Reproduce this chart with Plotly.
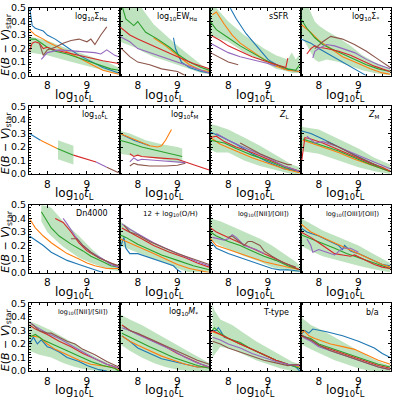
import plotly.graph_objects as go
from plotly.subplots import make_subplots

# colours of the six bins (matplotlib tab10)
C_BLUE, C_ORANGE, C_GREEN = "#1f77b4", "#ff7f0e", "#2ca02c"
C_RED, C_PURPLE, C_BROWN = "#d62728", "#9467bd", "#8c564b"
BAND = "rgba(44,160,44,0.3)"
FONT = "DejaVu Sans"

# ---- panel 1: log10 Sigma_Ha  (x, E(B-V)) ----
sha_blue = [(7.56, 0.5), (7.62, 0.37), (7.7, 0.35), (7.9, 0.33), (8.0, 0.30), (8.2, 0.27), (8.4, 0.23), (8.6, 0.19), (8.8, 0.15), (9.0, 0.12), (9.2, 0.09), (9.4, 0.06), (9.6, 0.04), (9.8, 0.02)]
sha_orange = [(7.55, 0.34), (7.7, 0.30), (7.9, 0.27), (8.0, 0.25), (8.2, 0.22), (8.4, 0.19), (8.6, 0.16), (8.8, 0.13), (9.0, 0.10), (9.2, 0.07), (9.4, 0.04), (9.6, 0.025), (9.8, 0.01)]
sha_green = [(7.55, 0.27), (7.7, 0.27), (7.8, 0.25), (8.0, 0.21), (8.2, 0.18), (8.5, 0.16), (8.8, 0.13), (9.0, 0.11), (9.2, 0.09), (9.4, 0.07), (9.6, 0.05), (9.8, 0.04)]
sha_red = [(7.55, 0.18), (7.62, 0.24), (7.7, 0.25), (7.8, 0.24), (7.9, 0.20), (8.0, 0.21), (8.2, 0.19), (8.5, 0.17), (8.8, 0.15), (9.1, 0.13), (9.4, 0.11), (9.8, 0.09)]
sha_purple = [(7.85, 0.12), (8.0, 0.17), (8.3, 0.19), (8.8, 0.18), (9.2, 0.17), (9.35, 0.16), (9.5, 0.19), (9.6, 0.17), (9.7, 0.15), (9.8, 0.14)]
sha_brown = [(7.8, 0.24), (7.9, 0.15), (8.0, 0.19), (8.2, 0.21), (8.4, 0.24), (8.6, 0.26), (8.8, 0.27), (9.0, 0.25), (9.1, 0.27), (9.2, 0.23), (9.35, 0.30), (9.5, 0.36)]
sha_band = [(7.55, 0.17, 0.29), (8.0, 0.15, 0.26), (8.5, 0.11, 0.20), (9.0, 0.07, 0.15), (9.5, 0.03, 0.10), (9.8, 0.01, 0.06)]

# ---- panel 2: log10 EW_Ha ----
ew_blue = [(8.9, 0.28), (8.95, 0.20), (9.1, 0.10), (9.3, 0.06), (9.6, 0.03), (9.8, 0.02)]
ew_orange = [(8.4, 0.28), (8.7, 0.22), (9.0, 0.15), (9.3, 0.08), (9.6, 0.04), (9.8, 0.03)]
ew_green = [(7.62, 0.5), (7.7, 0.42), (7.9, 0.37), (8.0, 0.40), (8.2, 0.32), (8.5, 0.27), (8.8, 0.21), (9.0, 0.16), (9.3, 0.10), (9.6, 0.06), (9.8, 0.04)]
ew_red = [(7.55, 0.36), (7.8, 0.30), (8.0, 0.27), (8.3, 0.23), (8.6, 0.19), (9.0, 0.14), (9.4, 0.09), (9.7, 0.06), (9.8, 0.05)]
ew_purple = [(7.55, 0.29), (7.8, 0.25), (8.0, 0.20), (8.3, 0.17), (8.6, 0.14), (9.0, 0.10), (9.4, 0.06), (9.7, 0.03), (9.8, 0.02)]
ew_brown = [(7.55, 0.21), (7.8, 0.14), (8.0, 0.10), (8.3, 0.08), (8.6, 0.05), (9.0, 0.03), (9.2, 0.0)]
ew_band = [(7.55, 0.25, 0.5), (8.0, 0.20, 0.5), (8.1, 0.18, 0.5), (8.4, 0.14, 0.38), (8.7, 0.11, 0.30), (9.0, 0.08, 0.22), (9.3, 0.05, 0.15), (9.6, 0.02, 0.08), (9.8, 0.01, 0.05)]

# ---- panel 3: sSFR ----
ssfr_blue = [(8.05, 0.5), (8.2, 0.42), (8.45, 0.31), (8.8, 0.19), (9.0, 0.12), (9.1, 0.10), (9.4, 0.05), (9.8, 0.03)]
ssfr_orange = [(7.6, 0.45), (7.7, 0.47), (7.9, 0.38), (8.1, 0.30), (8.3, 0.24), (8.6, 0.18), (8.9, 0.12), (9.2, 0.07), (9.5, 0.04), (9.8, 0.03)]
ssfr_green = [(7.55, 0.40), (7.7, 0.34), (8.0, 0.28), (8.3, 0.22), (8.6, 0.17), (8.9, 0.12), (9.2, 0.08), (9.5, 0.05), (9.7, 0.04), (9.8, 0.08)]
ssfr_red = [(7.55, 0.30), (7.8, 0.26), (8.0, 0.22), (8.3, 0.18), (8.6, 0.14), (9.0, 0.10), (9.3, 0.07), (9.45, 0.06), (9.5, 0.13)]
ssfr_purple = [(7.55, 0.24), (7.8, 0.20), (8.0, 0.17), (8.3, 0.14), (8.6, 0.12), (9.0, 0.09), (9.2, 0.07)]
ssfr_brown = [(7.55, 0.17), (7.8, 0.13), (8.0, 0.10), (8.25, 0.08)]
ssfr_band = [(7.55, 0.30, 0.5), (7.7, 0.28, 0.5), (8.0, 0.25, 0.40), (8.4, 0.17, 0.30), (8.9, 0.10, 0.20), (9.2, 0.05, 0.15), (9.5, 0.03, 0.12), (9.6, 0.02, 0.17), (9.7, 0.02, 0.12), (9.8, 0.02, 0.16)]

# ---- panel 4: log10 Sigma_* ----
sst_blue = [(7.55, 0.27), (7.8, 0.24), (8.0, 0.20), (8.3, 0.15), (8.6, 0.10), (8.9, 0.05), (9.2, 0.0)]
sst_orange = [(7.55, 0.38), (7.8, 0.32), (8.0, 0.26), (8.3, 0.20), (8.6, 0.14), (9.0, 0.09), (9.3, 0.05), (9.6, 0.02), (9.8, 0.01)]
sst_green = [(7.55, 0.42), (7.7, 0.35), (7.9, 0.28), (8.1, 0.23), (8.3, 0.20), (8.6, 0.16), (8.9, 0.12), (9.2, 0.08), (9.5, 0.05), (9.8, 0.03)]
sst_red = [(7.7, 0.16), (7.8, 0.20), (7.9, 0.22), (8.0, 0.21), (8.2, 0.20), (8.5, 0.18), (8.8, 0.15), (9.1, 0.11), (9.4, 0.07), (9.7, 0.04), (9.8, 0.03)]
sst_purple = [(7.85, 0.13), (7.9, 0.18), (8.0, 0.20), (8.2, 0.23), (8.4, 0.22), (8.6, 0.20), (8.9, 0.17), (9.2, 0.12), (9.5, 0.08), (9.8, 0.05)]
sst_brown = [(7.9, 0.20), (8.1, 0.25), (8.3, 0.29), (8.6, 0.27), (8.9, 0.23), (9.2, 0.18), (9.5, 0.12), (9.8, 0.06)]
sst_band = [(7.55, 0.30, 0.5), (7.75, 0.20, 0.5), (7.9, 0.12, 0.40), (8.0, 0.10, 0.37), (8.2, 0.12, 0.33), (8.5, 0.10, 0.28), (8.8, 0.07, 0.22), (9.1, 0.04, 0.15), (9.4, 0.02, 0.10), (9.8, 0.0, 0.05)]

# ---- panel 5: log10 t_L ----
tl_blue = [(7.55, 0.30), (7.83, 0.25)]
tl_orange = [(7.83, 0.25), (8.25, 0.19)]
tl_green = [(8.25, 0.19), (8.66, 0.14)]
tl_red = [(8.66, 0.14), (9.23, 0.09)]
tl_purple = [(9.23, 0.09), (9.5, 0.05)]
tl_brown = [(9.5, 0.05), (9.8, 0.01)]
tl_band = [(8.27, 0.11, 0.25), (8.66, 0.07, 0.21)]

# ---- panel 6: log10 t_M ----
tm_blue = [(7.55, 0.30), (7.7, 0.28), (7.9, 0.25), (8.1, 0.23), (8.3, 0.21)]
tm_orange = [(7.55, 0.30), (7.8, 0.27), (8.1, 0.23), (8.3, 0.21), (8.5, 0.20), (8.6, 0.21), (8.7, 0.25), (8.85, 0.33)]
tm_green = [(7.55, 0.25), (7.8, 0.23), (8.1, 0.20), (8.4, 0.18), (8.7, 0.16), (9.0, 0.14), (9.12, 0.13)]
tm_red = [(7.8, 0.15), (7.9, 0.13), (8.0, 0.14), (8.1, 0.13), (8.5, 0.12), (9.0, 0.11), (9.2, 0.09), (9.4, 0.07), (9.6, 0.05), (9.8, 0.03)]
tm_purple = [(7.8, 0.09), (7.9, 0.12), (8.0, 0.10), (8.1, 0.11), (8.5, 0.10), (9.0, 0.09), (9.2, 0.085)]
tm_brown = [(7.8, 0.06), (7.9, 0.08), (8.0, 0.07), (8.3, 0.06), (8.7, 0.06), (9.0, 0.065), (9.2, 0.08)]
tm_band = [(7.55, 0.15, 0.32), (7.8, 0.14, 0.30), (8.2, 0.13, 0.25), (8.6, 0.11, 0.22), (9.0, 0.09, 0.20), (9.12, 0.08, 0.19)]

# ---- panel 7: Z_L ----
zl_blue = [(7.55, 0.31), (7.8, 0.28), (8.2, 0.22), (8.6, 0.15), (9.0, 0.09), (9.4, 0.04), (9.8, 0.02)]
zl_orange = [(7.55, 0.27), (7.8, 0.22), (8.2, 0.17), (8.6, 0.12), (9.0, 0.08), (9.4, 0.04), (9.8, 0.01)]
zl_green = [(7.55, 0.25), (7.9, 0.23), (8.2, 0.19), (8.6, 0.14), (9.0, 0.10), (9.4, 0.05), (9.8, 0.02)]
zl_red = [(7.55, 0.27), (7.7, 0.28), (7.9, 0.24), (8.2, 0.20), (8.6, 0.16), (9.0, 0.11), (9.4, 0.06), (9.8, 0.02)]
zl_purple = [(7.7, 0.30), (8.0, 0.25), (8.3, 0.21), (8.6, 0.17), (9.0, 0.12), (9.4, 0.06), (9.8, 0.02)]
zl_brown = [(8.3, 0.23), (8.5, 0.20), (8.8, 0.15), (9.2, 0.10), (9.5, 0.07), (9.6, 0.07)]
zl_band = [(7.55, 0.18, 0.37), (7.7, 0.16, 0.36), (8.0, 0.16, 0.33), (8.4, 0.10, 0.27), (8.8, 0.06, 0.21), (9.2, 0.03, 0.14), (9.6, 0.0, 0.07), (9.8, 0.0, 0.05)]

# ---- panel 8: Z_M ----
zm_blue = [(7.55, 0.32), (7.8, 0.30), (8.1, 0.26), (8.5, 0.20), (8.9, 0.14), (9.3, 0.08), (9.6, 0.04), (9.8, 0.02)]
zm_orange = [(7.6, 0.25), (8.0, 0.21), (8.5, 0.16), (8.9, 0.11), (9.3, 0.07), (9.6, 0.04), (9.8, 0.02)]
zm_green = [(7.6, 0.26), (8.0, 0.22), (8.5, 0.17), (8.9, 0.12), (9.3, 0.07), (9.6, 0.04), (9.8, 0.02)]
zm_red = [(7.57, 0.10), (7.65, 0.27), (7.8, 0.26), (8.1, 0.23), (8.5, 0.18), (8.9, 0.13), (9.3, 0.08), (9.6, 0.05), (9.8, 0.02)]
zm_purple = [(7.7, 0.28), (7.9, 0.23), (8.1, 0.24), (8.5, 0.20), (8.9, 0.15), (9.3, 0.10), (9.6, 0.06), (9.8, 0.04)]
zm_brown = [(8.2, 0.24), (8.5, 0.20), (8.9, 0.14), (9.3, 0.09), (9.5, 0.06)]
zm_band = [(7.55, 0.17, 0.35), (8.0, 0.15, 0.33), (8.5, 0.10, 0.26), (9.0, 0.05, 0.19), (9.4, 0.02, 0.12), (9.8, 0.0, 0.07)]

# ---- panel 9: Dn4000 ----
dn_blue = [(7.55, 0.27), (7.7, 0.24), (7.9, 0.20), (8.1, 0.15), (8.3, 0.12), (8.5, 0.09), (8.8, 0.06), (9.0, 0.04), (9.2, 0.02), (9.4, 0.0)]
dn_orange = [(7.55, 0.40), (7.7, 0.33), (7.9, 0.27), (8.1, 0.22), (8.3, 0.18), (8.5, 0.14), (8.8, 0.10), (9.0, 0.07), (9.2, 0.05), (9.5, 0.03), (9.8, 0.03)]
dn_green = [(7.85, 0.45), (7.95, 0.40), (8.1, 0.33), (8.3, 0.27), (8.6, 0.21), (8.9, 0.16), (9.1, 0.12), (9.4, 0.08), (9.6, 0.05), (9.8, 0.04)]
dn_red = [(8.2, 0.40), (8.4, 0.37), (8.6, 0.30), (8.8, 0.22), (9.0, 0.16), (9.3, 0.11), (9.6, 0.07), (9.8, 0.04)]
dn_purple = [(8.4, 0.40), (8.5, 0.36), (8.7, 0.27), (8.9, 0.20), (9.1, 0.15), (9.4, 0.10), (9.6, 0.06), (9.8, 0.04)]
dn_brown = [(8.6, 0.25), (8.75, 0.25), (8.9, 0.20), (9.1, 0.15), (9.3, 0.11), (9.6, 0.07), (9.8, 0.05)]
dn_band = [(7.85, 0.38, 0.50), (8.0, 0.30, 0.49), (8.1, 0.27, 0.48), (8.4, 0.19, 0.38), (8.8, 0.11, 0.27), (9.1, 0.07, 0.18), (9.4, 0.04, 0.10), (9.6, 0.02, 0.07), (9.8, 0.01, 0.06)]

# ---- panel 10: 12 + log10(O/H) ----
oh_blue = [(7.55, 0.18), (7.65, 0.26), (7.7, 0.18), (7.8, 0.14), (8.0, 0.14), (8.2, 0.12), (8.4, 0.10), (8.7, 0.07), (8.9, 0.05), (9.0, 0.02), (9.1, 0.0)]
oh_orange = [(7.55, 0.25), (7.8, 0.22), (8.1, 0.18), (8.4, 0.14), (8.7, 0.10), (9.0, 0.06), (9.3, 0.03), (9.6, 0.01), (9.8, 0.0)]
oh_green = [(7.55, 0.28), (7.7, 0.26), (8.0, 0.21), (8.3, 0.17), (8.6, 0.13), (9.0, 0.09), (9.4, 0.05), (9.8, 0.02)]
oh_red = [(7.6, 0.33), (7.8, 0.30), (8.1, 0.25), (8.4, 0.20), (8.8, 0.15), (9.2, 0.11), (9.5, 0.07), (9.8, 0.04)]
oh_purple = [(7.6, 0.36), (7.8, 0.32), (8.1, 0.27), (8.4, 0.22), (8.7, 0.18), (9.1, 0.13), (9.5, 0.08), (9.8, 0.05)]
oh_brown = [(7.65, 0.35), (7.8, 0.30), (8.0, 0.28), (8.3, 0.23), (8.6, 0.19), (9.0, 0.14), (9.4, 0.10), (9.8, 0.06)]
oh_band = [(7.55, 0.20, 0.38), (7.8, 0.17, 0.33), (8.1, 0.13, 0.27), (8.4, 0.10, 0.22), (8.7, 0.07, 0.18), (9.0, 0.03, 0.14), (9.3, 0.0, 0.10), (9.5, 0.0, 0.07), (9.8, 0.0, 0.04)]

# ---- panel 11: log10([NII]/[OII]) ----
no_blue = [(7.55, 0.23), (7.7, 0.18), (8.0, 0.14), (8.3, 0.11), (8.6, 0.08), (8.9, 0.05), (9.1, 0.03), (9.3, 0.02), (9.5, 0.02), (9.8, 0.01)]
no_orange = [(7.55, 0.25), (7.7, 0.20), (8.0, 0.17), (8.3, 0.14), (8.6, 0.11), (8.9, 0.08), (9.2, 0.06), (9.5, 0.04), (9.8, 0.02)]
no_green = [(7.55, 0.30), (7.7, 0.27), (8.0, 0.23), (8.3, 0.20), (8.6, 0.16), (8.9, 0.12), (9.2, 0.09), (9.5, 0.05), (9.8, 0.02)]
no_red = [(7.55, 0.33), (7.7, 0.30), (8.0, 0.26), (8.3, 0.22), (8.6, 0.18), (8.9, 0.14), (9.2, 0.10), (9.5, 0.06), (9.8, 0.02)]
no_purple = [(7.6, 0.26), (7.9, 0.24), (8.0, 0.25), (8.1, 0.28), (8.2, 0.26), (8.4, 0.20), (8.7, 0.17), (8.9, 0.14)]
no_brown = [(8.0, 0.26), (8.1, 0.27), (8.4, 0.20), (8.5, 0.23), (8.6, 0.23), (8.8, 0.20), (8.9, 0.16), (9.1, 0.12), (9.4, 0.07), (9.7, 0.04)]
no_band = [(7.55, 0.24, 0.40), (7.8, 0.20, 0.38), (8.1, 0.16, 0.34), (8.4, 0.12, 0.30), (8.8, 0.08, 0.25), (9.1, 0.04, 0.20), (9.4, 0.02, 0.14), (9.7, 0.0, 0.08), (9.8, 0.0, 0.05)]

# ---- panel 12: log10([OIII]/[OII]) ----
oo_blue = [(7.55, 0.33), (7.7, 0.30), (8.0, 0.27), (8.3, 0.23), (8.5, 0.20), (8.6, 0.17), (8.65, 0.20), (8.8, 0.16), (9.0, 0.14), (9.3, 0.10), (9.6, 0.06), (9.8, 0.05)]
oo_orange = [(7.55, 0.36), (7.8, 0.30), (8.1, 0.26), (8.4, 0.22), (8.7, 0.18), (9.0, 0.14), (9.3, 0.10), (9.6, 0.06), (9.8, 0.04)]
oo_green = [(7.55, 0.28), (7.8, 0.25), (8.1, 0.22), (8.4, 0.18), (8.7, 0.14), (9.0, 0.11), (9.3, 0.08), (9.6, 0.05), (9.8, 0.03)]
oo_red = [(7.55, 0.30), (7.8, 0.26), (8.0, 0.22), (8.2, 0.18), (8.4, 0.14), (8.6, 0.13), (8.8, 0.12), (8.9, 0.13), (9.1, 0.10), (9.4, 0.06), (9.6, 0.04), (9.8, 0.03)]
oo_purple = [(7.7, 0.25), (7.8, 0.20), (7.85, 0.15), (8.0, 0.17), (8.2, 0.15), (8.4, 0.13), (8.6, 0.18), (8.8, 0.18), (9.0, 0.15)]
oo_band = [(7.55, 0.20, 0.40), (7.8, 0.16, 0.36), (8.1, 0.12, 0.31), (8.6, 0.08, 0.25), (9.0, 0.05, 0.20), (9.3, 0.03, 0.15), (9.6, 0.01, 0.10), (9.8, 0.0, 0.07)]

# ---- panel 13: log10([NII]/[SII]) ----
ns_blue = [(7.55, 0.20), (7.65, 0.25), (7.75, 0.20), (7.85, 0.23), (8.0, 0.18), (8.1, 0.17), (8.3, 0.14), (8.5, 0.10), (8.8, 0.07), (9.0, 0.04), (9.3, 0.01), (9.5, 0.0)]
ns_orange = [(7.6, 0.26), (7.8, 0.25), (8.0, 0.20), (8.2, 0.16), (8.5, 0.12), (8.8, 0.08), (9.1, 0.05), (9.4, 0.04), (9.6, 0.03), (9.8, 0.01)]
ns_green = [(7.55, 0.25), (7.7, 0.27), (7.9, 0.23), (8.2, 0.19), (8.5, 0.15), (8.8, 0.11), (9.1, 0.07), (9.4, 0.04), (9.7, 0.02), (9.8, 0.0)]
ns_red = [(7.55, 0.34), (7.7, 0.31), (8.0, 0.27), (8.3, 0.22), (8.6, 0.18), (8.9, 0.13), (9.2, 0.09), (9.5, 0.05), (9.8, 0.02)]
ns_purple = [(7.55, 0.36), (7.7, 0.33), (8.0, 0.28), (8.3, 0.24), (8.6, 0.19), (8.9, 0.14), (9.2, 0.09), (9.5, 0.05), (9.8, 0.02)]
ns_brown = [(7.6, 0.35), (7.8, 0.30), (8.0, 0.28), (8.1, 0.28), (8.3, 0.25), (8.5, 0.22), (8.7, 0.20), (8.9, 0.16), (9.2, 0.12), (9.5, 0.07), (9.8, 0.03)]
ns_band = [(7.55, 0.15, 0.37), (7.8, 0.12, 0.34), (8.1, 0.10, 0.30), (8.4, 0.06, 0.25), (8.7, 0.03, 0.20), (9.0, 0.01, 0.14), (9.3, 0.0, 0.09), (9.6, 0.0, 0.05), (9.7, 0.0, 0.04), (9.8, 0.0, 0.02)]

# ---- panel 14: log10 M_* ----
ms_blue = [(7.6, 0.26), (7.8, 0.22), (8.0, 0.17), (8.3, 0.13), (8.6, 0.09), (8.9, 0.07), (9.2, 0.05), (9.5, 0.03), (9.8, 0.03)]
ms_orange = [(7.6, 0.26), (7.8, 0.22), (8.0, 0.19), (8.3, 0.15), (8.6, 0.11), (8.9, 0.08), (9.2, 0.05), (9.5, 0.03), (9.8, 0.03)]
ms_green = [(7.6, 0.28), (7.8, 0.25), (8.0, 0.22), (8.3, 0.18), (8.6, 0.14), (8.9, 0.10), (9.2, 0.07), (9.5, 0.04), (9.8, 0.02)]
ms_red = [(7.6, 0.34), (7.8, 0.30), (8.1, 0.26), (8.4, 0.22), (8.7, 0.18), (9.0, 0.13), (9.3, 0.09), (9.6, 0.05), (9.8, 0.03)]
ms_purple = [(7.6, 0.32), (7.8, 0.30), (8.0, 0.27), (8.3, 0.23), (8.6, 0.19), (8.9, 0.15), (9.2, 0.10), (9.5, 0.06), (9.8, 0.03)]
ms_brown = [(7.65, 0.33), (7.8, 0.30), (8.0, 0.28), (8.3, 0.24), (8.6, 0.20), (8.9, 0.16), (9.2, 0.12), (9.5, 0.08), (9.8, 0.05)]
ms_band = [(7.55, 0.20, 0.42), (7.8, 0.15, 0.38), (8.1, 0.10, 0.34), (8.4, 0.06, 0.29), (8.7, 0.03, 0.24), (9.0, 0.01, 0.19), (9.3, 0.0, 0.14), (9.6, 0.0, 0.09), (9.8, 0.0, 0.06)]

# ---- panel 15: T-type ----
tt_blue = [(7.62, 0.30), (7.7, 0.30), (7.75, 0.32), (7.8, 0.30), (7.9, 0.25), (8.0, 0.24), (8.3, 0.20), (8.6, 0.16), (8.9, 0.12), (9.2, 0.08), (9.5, 0.05), (9.7, 0.03), (9.8, 0.0)]
tt_orange = [(7.6, 0.29), (7.8, 0.27), (8.0, 0.24), (8.3, 0.20), (8.6, 0.16), (8.9, 0.12), (9.2, 0.08), (9.5, 0.05), (9.8, 0.03)]
tt_green = [(7.6, 0.30), (7.65, 0.32), (7.8, 0.28), (8.0, 0.24), (8.3, 0.21), (8.6, 0.16), (8.9, 0.12), (9.2, 0.08), (9.5, 0.05), (9.8, 0.02)]
tt_red = [(7.55, 0.28), (7.6, 0.30), (7.8, 0.27), (8.0, 0.24), (8.3, 0.20), (8.6, 0.16), (8.9, 0.12), (9.2, 0.08), (9.5, 0.05), (9.8, 0.04)]
tt_purple = [(7.6, 0.25), (7.8, 0.23), (8.0, 0.20), (8.3, 0.17), (8.6, 0.13), (8.9, 0.10), (9.2, 0.07), (9.5, 0.05), (9.8, 0.04)]
tt_brown = [(7.6, 0.22), (7.8, 0.20), (8.0, 0.17), (8.3, 0.14), (8.6, 0.11), (8.9, 0.08), (9.2, 0.06), (9.5, 0.04), (9.8, 0.05)]
tt_band = [(7.6, 0.10, 0.50), (7.65, 0.12, 0.45), (7.8, 0.18, 0.38), (8.1, 0.16, 0.34), (8.4, 0.12, 0.28), (8.7, 0.08, 0.22), (9.0, 0.05, 0.17), (9.3, 0.02, 0.12), (9.6, 0.0, 0.07), (9.8, 0.0, 0.05)]

# ---- panel 16: b/a ----
ba_blue = [(7.55, 0.27), (7.65, 0.30), (7.75, 0.28), (7.85, 0.31), (8.2, 0.29), (8.6, 0.26), (9.0, 0.22), (9.4, 0.17), (9.6, 0.13), (9.8, 0.10)]
ba_orange = [(7.55, 0.27), (7.62, 0.30), (7.75, 0.26), (7.9, 0.24), (8.1, 0.22), (8.3, 0.20), (8.6, 0.18), (8.9, 0.16), (9.2, 0.12), (9.5, 0.08), (9.8, 0.05)]
ba_green = [(7.55, 0.26), (7.8, 0.24), (8.0, 0.20), (8.3, 0.17), (8.6, 0.14), (8.9, 0.11), (9.2, 0.08), (9.5, 0.05), (9.8, 0.03)]
ba_red = [(7.55, 0.26), (7.8, 0.23), (8.0, 0.19), (8.3, 0.16), (8.6, 0.13), (8.9, 0.10), (9.2, 0.07), (9.5, 0.04), (9.8, 0.02)]
ba_purple = [(7.6, 0.25), (7.8, 0.22), (8.0, 0.18), (8.3, 0.15), (8.6, 0.12), (8.9, 0.09), (9.2, 0.06), (9.5, 0.03), (9.8, 0.01)]
ba_brown = [(7.55, 0.27), (7.8, 0.23), (8.0, 0.19), (8.3, 0.15), (8.6, 0.12), (8.9, 0.09), (9.2, 0.06), (9.5, 0.03), (9.8, 0.01)]
ba_band = [(7.55, 0.20, 0.40), (7.8, 0.16, 0.34), (8.1, 0.12, 0.30), (8.4, 0.08, 0.25), (8.7, 0.05, 0.20), (9.0, 0.02, 0.15), (9.3, 0.0, 0.10), (9.6, 0.0, 0.06), (9.8, 0.0, 0.04)]

LABELS = [
    "log<sub>10</sub>Σ<sub>Hα</sub>", "log<sub>10</sub>EW<sub>Hα</sub>", "sSFR", "log<sub>10</sub>Σ<sub>*</sub>",
    "log<sub>10</sub><i>t</i><sub>L</sub>", "log<sub>10</sub><i>t</i><sub>M</sub>", "<i>Z</i><sub>L</sub>", "<i>Z</i><sub>M</sub>",
    "Dn4000", "12 + log<sub>10</sub>(O/H)", "log<sub>10</sub>([NII]/[OII])", "log<sub>10</sub>([OIII]/[OII])",
    "log<sub>10</sub>([NII]/[SII])", "log<sub>10</sub><i>M</i><sub>*</sub>", "T-type", "b/a",
]
LABEL_SIZE = [8, 8, 8, 8, 8, 8, 8, 8, 8, 7, 6.5, 6.5, 6.5, 8, 8, 8]
XTITLE = "log<sub>10</sub><i>t</i><sub>L</sub>"
YTITLE = "<i>E</i>(<i>B</i> − <i>V</i>)<sub>star</sub>"

COLORS = [C_BLUE, C_ORANGE, C_GREEN, C_RED, C_PURPLE, C_BROWN]
panels = [
    ([sha_blue, sha_orange, sha_green, sha_red, sha_purple, sha_brown], sha_band),
    ([ew_blue, ew_orange, ew_green, ew_red, ew_purple, ew_brown], ew_band),
    ([ssfr_blue, ssfr_orange, ssfr_green, ssfr_red, ssfr_purple, ssfr_brown], ssfr_band),
    ([sst_blue, sst_orange, sst_green, sst_red, sst_purple, sst_brown], sst_band),
    ([tl_blue, tl_orange, tl_green, tl_red, tl_purple, tl_brown], tl_band),
    ([tm_blue, tm_orange, tm_green, tm_red, tm_purple, tm_brown], tm_band),
    ([zl_blue, zl_orange, zl_green, zl_red, zl_purple, zl_brown], zl_band),
    ([zm_blue, zm_orange, zm_green, zm_red, zm_purple, zm_brown], zm_band),
    ([dn_blue, dn_orange, dn_green, dn_red, dn_purple, dn_brown], dn_band),
    ([oh_blue, oh_orange, oh_green, oh_red, oh_purple, oh_brown], oh_band),
    ([no_blue, no_orange, no_green, no_red, no_purple, no_brown], no_band),
    ([oo_blue, oo_orange, oo_green, oo_red, oo_purple, None], oo_band),
    ([ns_blue, ns_orange, ns_green, ns_red, ns_purple, ns_brown], ns_band),
    ([ms_blue, ms_orange, ms_green, ms_red, ms_purple, ms_brown], ms_band),
    ([tt_blue, tt_orange, tt_green, tt_red, tt_purple, tt_brown], tt_band),
    ([ba_blue, ba_orange, ba_green, ba_red, ba_purple, ba_brown], ba_band),
]

fig = make_subplots(rows=4, cols=4, shared_yaxes=True,
                    horizontal_spacing=0, vertical_spacing=0.085)

for k, (lines, band) in enumerate(panels):
    r, c = k // 4 + 1, k % 4 + 1
    bx = [p[0] for p in band]
    fig.add_trace(go.Scatter(x=bx + bx[::-1],
                             y=[p[1] for p in band] + [p[2] for p in band][::-1],
                             fill="toself", fillcolor=BAND, line=dict(width=0),
                             mode="lines", hoverinfo="skip"), row=r, col=c)
    for line, col in zip(lines, COLORS):
        if line is None:
            continue
        fig.add_trace(go.Scatter(x=[p[0] for p in line], y=[p[1] for p in line],
                                 mode="lines", line=dict(color=col, width=1.1)),
                      row=r, col=c)
    suffix = "" if k == 0 else str(k + 1)
    xd, yd = f"x{suffix} domain", f"y{suffix} domain"
    fig.add_annotation(text=LABELS[k], xref=xd, yref=yd, x=0.89, y=0.87,
                       xanchor="right", yanchor="middle", showarrow=False,
                       font=dict(size=LABEL_SIZE[k], color="black", family=FONT))
    # x axis title under every panel
    fig.add_annotation(text=XTITLE, xref=xd, yref=yd, x=0.5, y=0, yshift=-10,
                       xanchor="center", yanchor="top", showarrow=False,
                       font=dict(size=12, color="black", family=FONT))
    if c == 1:
        fig.add_annotation(text=YTITLE, xref="paper", yref=yd, x=0, xshift=-23,
                           y=0.5, yshift=-3, textangle=-90, xanchor="center",
                           yanchor="middle", showarrow=False,
                           font=dict(size=11, color="black", family=FONT))

axis_style = dict(showline=True, linecolor="black", linewidth=1, mirror="ticks",
                  ticks="inside", ticklen=3, tickcolor="black", showgrid=False,
                  zeroline=False, automargin=False)

fig.update_xaxes(range=[7.54, 9.82], tickvals=[8, 9], ticktext=["8", "9"],
                 tickfont=dict(size=10.5, family=FONT, color="black"),
                 minor=dict(ticks="inside", ticklen=1.5, dtick=0.2, tickcolor="black"),
                 **axis_style)
fig.update_yaxes(range=[0, 0.5], dtick=0.1, tickformat=".1f",
                 tickfont=dict(size=9.5, family=FONT, color="black"),
                 minor=dict(ticks="inside", ticklen=1.5, dtick=0.02, tickcolor="black"),
                 **axis_style)

fig.update_layout(width=399, height=399, showlegend=False,
                  margin=dict(l=29, r=8, t=8, b=28),
                  paper_bgcolor="white", plot_bgcolor="white",
                  font=dict(family=FONT, color="black"))

fig.write_html("out.html", config={"displayModeBar": False},
               post_script="document.body.style.margin='0px';")
